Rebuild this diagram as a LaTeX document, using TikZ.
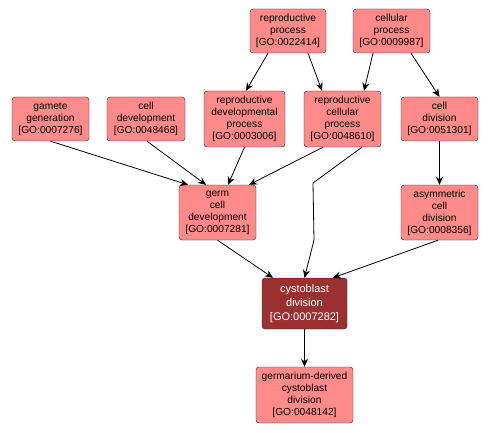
\documentclass[tikz,border=0pt]{standalone}
\usepackage{fontspec}
\setmainfont{Liberation Sans}
\usepackage{xcolor}
\usepackage{tikz}
\usetikzlibrary{arrows.meta}
\definecolor{termfill}{RGB}{255,138,138}
\definecolor{mainfill}{RGB}{155,48,48}
\definecolor{termline}{RGB}{40,30,30}

\begin{document}
\begin{tikzpicture}[x=1pt,y=-1pt,thin]

			\tikzstyle{term} = [draw=termline,fill=termfill,rounded corners=3pt,inner sep=0pt,align=center,font=\fontsize{10.2}{12}\selectfont]
			\tikzstyle{mainterm} = [term,fill=mainfill,text=white,font=\fontsize{11}{14}\selectfont]
			\tikzstyle{isa} = [-{Stealth[length=8pt,width=7pt]},black,line width=0.8pt]

			\useasboundingbox (0,0) rectangle (490,433);

			% top row
			\node[term,minimum width=76pt,minimum height=44pt] (rp) at (288,31) {reproductive\\process\\{[}GO:0022414{]}};
			\node[term,minimum width=77pt,minimum height=44pt] (cp) at (391.5,31) {cellular\\process\\{[}GO:0009987{]}};

			% second row
			\node[term,minimum width=77pt,minimum height=44pt] (gg) at (50.5,119) {gamete\\generation\\{[}GO:0007276{]}};
			\node[term,minimum width=78pt,minimum height=44pt] (cdev) at (146,119) {cell\\development\\{[}GO:0048468{]}};
			\node[term,minimum width=81pt,minimum height=56pt] (rdp) at (244.5,119) {reproductive\\developmental\\process\\{[}GO:0003006{]}};
			\node[term,minimum width=77pt,minimum height=56pt] (rcp) at (342.5,119) {reproductive\\cellular\\process\\{[}GO:0048610{]}};
			\node[term,minimum width=77pt,minimum height=44pt] (cd) at (439.5,119) {cell\\division\\{[}GO:0051301{]}};

			% third row
			\node[term,minimum width=77pt,minimum height=55pt] (gcd) at (217.5,212.5) {germ\\cell\\development\\{[}GO:0007281{]}};
			\node[term,minimum width=77pt,minimum height=55pt] (acd) at (439.5,212.5) {asymmetric\\cell\\division\\{[}GO:0008356{]}};

			\node[mainterm,minimum width=85pt,minimum height=51pt] (cyd) at (304.5,303.5) {cystoblast\\division\\{[}GO:0007282{]}};
			\node[term,minimum width=97pt,minimum height=56pt] (gdcd) at (304.5,395) {germarium-derived\\cystoblast\\division\\{[}GO:0048142{]}};

			% bends
			\coordinate (bend1) at (313,183);
			\coordinate (bend2) at (314,240);

			\draw[isa] ([xshift=-20pt]rp.south) -- ([xshift=1.5pt]rdp.north);
			\draw[isa] ([xshift=20pt]rp.south) -- ([xshift=-20.5pt]rcp.north);
			\draw[isa] ([xshift=-18.5pt]cp.south) -- ([xshift=21.5pt]rcp.north);
			\draw[isa] ([xshift=19.5pt]cp.south) -- (cd.north);

			\draw[isa] (gg.south) -- ([xshift=-29.5pt]gcd.north);
			\draw[isa] ([xshift=1pt]cdev.south) -- ([xshift=-11.5pt]gcd.north);
			\draw[isa] (rdp.south) -- ([xshift=10.5pt]gcd.north);
			\draw[isa] ([xshift=-19.5pt]rcp.south) -- ([xshift=31.5pt]gcd.north);
			\draw[isa] (cd.south) -- (acd.north);

			\draw[isa] ([xshift=19.5pt]rcp.south) -- (bend1) -- (bend2) -- (cyd.north);
			\draw[isa] (gcd.south) -- ([xshift=-31.5pt]cyd.north);
			\draw[isa] ([xshift=-1.5pt]acd.south) -- ([xshift=28.5pt]cyd.north);

			\draw[isa] (cyd.south) -- (gdcd.north);

\end{tikzpicture}
\end{document}
